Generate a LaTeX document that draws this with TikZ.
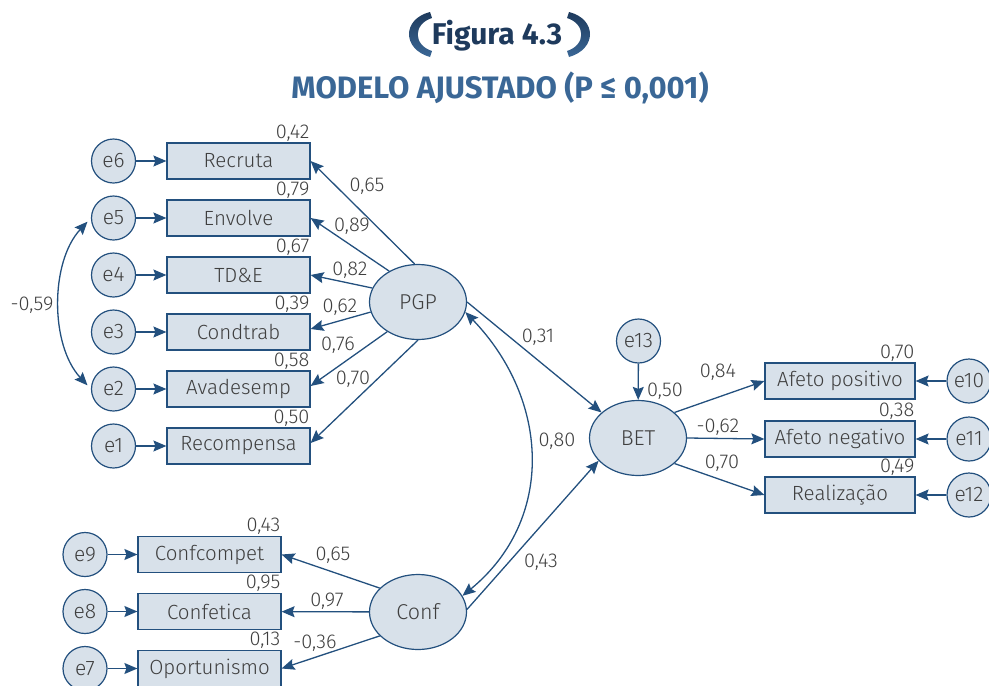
\documentclass[tikz,border=0pt]{standalone}
\usepackage{fontspec}
\IfFontExistsTF{Fira Sans Light}{\setmainfont{Fira Sans Light}}{\setmainfont{Fira Sans}}
\newfontfamily\titlefont{Fira Sans}
\usetikzlibrary{shapes.geometric,arrows.meta}
\definecolor{lnc}{HTML}{23507E}
\definecolor{fillc}{HTML}{D8E1EA}
\definecolor{txt}{HTML}{3F3F3F}
\definecolor{ttl}{HTML}{1E3A5C}
\definecolor{subc}{HTML}{3A6796}
\begin{document}
\begin{tikzpicture}[x=1pt,y=-1pt,
  >={Stealth[length=13pt,width=11pt,inset=2pt]},
  obs/.style={draw=lnc, fill=fillc, line width=1.2pt, minimum width=143pt, minimum height=36pt, inner sep=0pt, text=txt, font=\fontsize{20.5}{24}\selectfont},
  obsw/.style={obs, minimum width=150pt},
  lat/.style={ellipse, draw=lnc, fill=fillc, line width=1.2pt, minimum width=97pt, minimum height=75pt, inner sep=0pt, text=txt, font=\fontsize{21.5}{24}\selectfont},
  err/.style={circle, draw=lnc, fill=fillc, line width=1.2pt, minimum size=44pt, inner sep=0pt, text=txt, font=\fontsize{21}{24}\selectfont},
  arr/.style={draw=lnc, line width=1.3pt, ->},
  darr/.style={draw=lnc, line width=1.3pt, <->},
  num/.style={text=txt, font=\fontsize{20}{22}\selectfont, inner sep=0pt},
  rsq/.style={label={[num, anchor=south east, inner sep=1pt]north east:#1}}
]
\clip (0,0) rectangle (989,686);
\useasboundingbox (0,0) rectangle (989,686);

% title
\node[font=\titlefont\bfseries\fontsize{30}{32}\selectfont, text=ttl] (title) at (497,36) {Figura 4.3};
\node[font=\titlefont\bfseries\fontsize{31}{34}\selectfont, text=subc] (subtitle) at (500,88) {MODELO AJUSTADO (P ≤ 0,001)};
\shade[top color=ttl, bottom color=subc] (430,12) .. controls (402,19) and (402,49) .. (430,57) -- (432,51) .. controls (413,45) and (413,24) .. (432,18) -- cycle;
\shade[top color=ttl, bottom color=subc] (569,12) .. controls (597,19) and (597,49) .. (569,57) -- (567,51) .. controls (586,45) and (586,24) .. (567,18) -- cycle;

% latent variables
\node[lat] (PGP) at (418,302) {PGP};
\node[lat] (BET) at (638,438) {BET};
\node[lat] (Conf) at (418,612) {Conf};

% PGP indicators
\node[obs, rsq={0,42}] (Recruta) at (238.5,161) {Recruta};
\node[obs, rsq={0,79}] (Envolve) at (238.5,218) {Envolve};
\node[obs, rsq={0,67}] (TDE) at (238.5,275) {TD\&E};
\node[obs, rsq={0,39}] (Condtrab) at (238.5,332) {Condtrab};
\node[obs, rsq={0,58}] (Avadesemp) at (238.5,389) {Avadesemp};
\node[obs, rsq={0,50}] (Recompensa) at (238.5,446) {Recompensa};
\node[err] (e6) at (113.5,161) {e6};
\node[err] (e5) at (113.5,218) {e5};
\node[err] (e4) at (113.5,275) {e4};
\node[err] (e3) at (113.5,332) {e3};
\node[err] (e2) at (113.5,389) {e2};
\node[err] (e1) at (113.5,446) {e1};

% Conf indicators
\node[obs, rsq={0,43}] (Confcompet) at (209.5,554.5) {Confcompet};
\node[obs, rsq={0,95}] (Confetica) at (209.5,611.5) {Confetica};
\node[obs, rsq={0,13}] (Oport) at (209.5,668.5) {Oportunismo};
\node[err] (e9) at (85,554.5) {e9};
\node[err] (e8) at (85,611.5) {e8};
\node[err] (e7) at (85,668.5) {e7};

% BET indicators
\node[obsw, rsq={0,70}] (AP) at (840,381) {Afeto positivo};
\node[obsw, rsq={0,38}] (AN) at (840,439) {Afeto negativo};
\node[obsw, rsq={0,49}] (Real) at (840,495) {Realização};
\node[err] (e10) at (969,381) {e10};
\node[err] (e11) at (969,439) {e11};
\node[err] (e12) at (969,495) {e12};
\node[err] (e13) at (638.5,341) {e13};

% error arrows
\foreach \e/\b in {e6/Recruta,e5/Envolve,e4/TDE,e3/Condtrab,e2/Avadesemp,e1/Recompensa,e9/Confcompet,e8/Confetica,e7/Oport,e10/AP,e11/AN,e12/Real,e13/BET}
  \draw[arr] (\e) -- (\b);

% PGP loadings
\draw[arr] (PGP.95) -- (Recruta.east);
\draw[arr] (PGP.133) -- (Envolve.east);
\draw[arr] (PGP.163) -- (TDE.east);
\draw[arr] (PGP.192) -- ([yshift=3pt]Condtrab.east);
\draw[arr] (PGP.224) -- ([yshift=3pt]Avadesemp.east);
\draw[arr] (PGP.270) -- ([yshift=3pt]Recompensa.east);
\node[num] (l1) at (367,186) {0,65};
\node[num] (l2) at (352,226) {0,89};
\node[num] (l3) at (350,270) {0,82};
\node[num] (l4) at (340,307) {0,62};
\node[num] (l5) at (338,345) {0,76};
\node[num] (l6) at (353,379) {0,70};

% Conf loadings
\draw[arr] (Conf.148) -- (Confcompet.east);
\draw[arr] (Conf) -- (Confetica);
\draw[arr] (Conf.212) -- (Oport.east);
\node[num] (l7) at (333,555) {0,65};
\node[num] (l8) at (327,601) {0,97};
\node[num] (l9) at (315,643) {-0,36};

% structural paths
\draw[arr] (PGP.0) -- (BET.145);
\draw[arr] (Conf.3) -- (BET.210);
\draw[darr] (PGP.-12) .. controls (550,400) and (555,520) .. (Conf.20);
\node[num] (l10) at (538,337) {0,31};
\node[num] (l11) at (557,441) {0,80};
\node[num] (l12) at (541,562) {0,43};
\node[num] (l13) at (665,391) {0,50};

% BET loadings
\draw[arr] (BET.35) -- (AP.west);
\draw[arr] (BET.0) -- (AN.west);
\draw[arr] (BET.-35) -- (Real.west);
\node[num] (l14) at (718,372) {0,84};
\node[num] (l15) at (718,427) {-0,62};
\node[num] (l16) at (722,463) {0,70};

% covariance e5-e2
\draw[darr, shorten <=5pt, shorten >=5pt] (e5.west) .. controls (50,262) and (50,345) .. (e2.west);
\node[num] (l17) at (32,305) {-0,59};
\end{tikzpicture}
\end{document}
